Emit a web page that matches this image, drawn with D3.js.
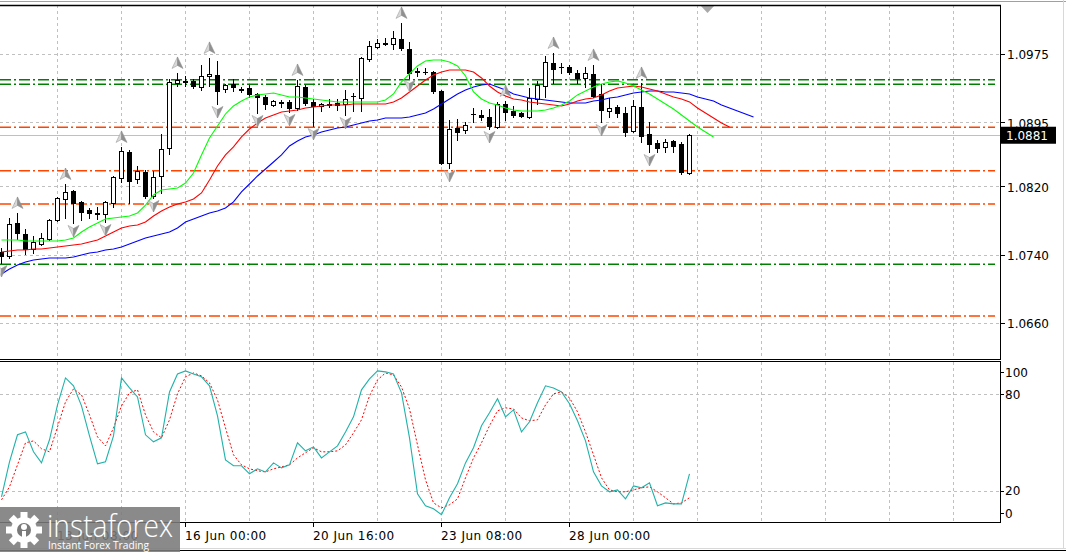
<!DOCTYPE html>
<html><head><meta charset="utf-8">
<script src="https://cdn.jsdelivr.net/npm/d3@7"></script>
<style>html,body{margin:0;padding:0;background:#fff;overflow:hidden}svg{display:block}</style>
</head><body>
<svg id="c" width="1066" height="552"></svg>
<script>
// ---- EURUSD H4 candles (bar index 0 = 10 Jun 04:00) ----
const open=[1.07443,1.07396,1.07783,1.07654,1.07478,1.07537,1.07595,1.07818,1.08064,1.08157,
1.08029,1.07935,1.07900,1.07888,1.08017,1.08310,1.08614,1.08298,1.08380,1.08099,
1.08333,1.08661,1.09422,1.09446,1.09446,1.09375,1.09504,1.09516,1.09352,1.09410,
1.09352,1.09364,1.09293,1.09258,1.09164,1.09200,1.09200,1.09129,1.09375,1.09200,
1.09153,1.09176,1.09188,1.09176,1.09264,1.09246,1.09703,1.09844,1.09891,1.09879,
1.09937,1.09820,1.09563,1.09551,1.09551,1.09328,1.08485,1.08895,1.08872,1.09059,
1.09047,1.09024,1.08907,1.09176,1.09094,1.09071,1.09024,1.09235,1.09387,1.09656,
1.09609,1.09609,1.09539,1.09481,1.09528,1.09293,1.09094,1.09141,1.09071,1.08860,
1.09141,1.08825,1.08720,1.08673,1.08743,1.08708,1.08368];
const high=[1.07490,1.07841,1.07900,1.07712,1.07630,1.07666,1.07830,1.08087,1.08239,1.08169,
1.08040,1.07958,1.07970,1.08040,1.08333,1.08673,1.08638,1.08450,1.08403,1.08392,
1.08825,1.09469,1.09539,1.09504,1.09469,1.09633,1.09715,1.09680,1.09410,1.09469,
1.09375,1.09399,1.09305,1.09282,1.09223,1.09223,1.09223,1.09457,1.09399,1.09235,
1.09188,1.09235,1.09235,1.09340,1.09305,1.09727,1.09914,1.09937,1.09949,1.10031,
1.10125,1.09902,1.09598,1.09598,1.09563,1.09340,1.08989,1.09001,1.08965,1.09129,
1.09106,1.09118,1.09200,1.09211,1.09153,1.09083,1.09364,1.09446,1.09738,1.09773,
1.09656,1.09633,1.09574,1.09609,1.09633,1.09410,1.09246,1.09164,1.09141,1.09223,
1.09422,1.08965,1.08755,1.08766,1.08755,1.08731,1.08825];
const low=[1.07314,1.07373,1.07595,1.07420,1.07431,1.07525,1.07584,1.07806,1.07841,1.07783,
1.07818,1.07841,1.07830,1.07794,1.07970,1.08263,1.08017,1.08251,1.08075,1.08075,
1.08134,1.08591,1.09387,1.09387,1.09364,1.09340,1.09387,1.09176,1.09317,1.09328,
1.09317,1.09258,1.09071,1.09118,1.09153,1.09141,1.09083,1.09106,1.09164,1.08919,
1.09094,1.09141,1.09106,1.09047,1.09094,1.09094,1.09680,1.09832,1.09867,1.09820,
1.09809,1.09481,1.09504,1.09528,1.09305,1.08474,1.08427,1.08755,1.08837,1.08965,
1.08989,1.08883,1.08895,1.08989,1.09024,1.09024,1.09012,1.09176,1.09258,1.09422,
1.09539,1.09528,1.09422,1.09375,1.09258,1.08965,1.09024,1.09024,1.08801,1.08848,
1.08731,1.08614,1.08614,1.08614,1.08614,1.08357,1.08357];
const close=[1.07396,1.07771,1.07666,1.07478,1.07560,1.07607,1.07818,1.08075,1.08146,1.08017,
1.07912,1.07900,1.07888,1.08029,1.08321,1.08626,1.08275,1.08392,1.08099,1.08321,
1.08649,1.09434,1.09457,1.09434,1.09387,1.09504,1.09528,1.09328,1.09399,1.09375,
1.09340,1.09293,1.09258,1.09176,1.09211,1.09188,1.09129,1.09387,1.09188,1.09153,
1.09176,1.09164,1.09164,1.09235,1.09266,1.09715,1.09855,1.09891,1.09879,1.09949,
1.09832,1.09539,1.09551,1.09548,1.09328,1.08485,1.08883,1.08848,1.08930,1.09055,
1.09024,1.08919,1.09176,1.09083,1.09047,1.09036,1.09246,1.09399,1.09668,1.09586,
1.09605,1.09551,1.09481,1.09539,1.09270,1.09106,1.09129,1.09071,1.08848,1.09153,
1.08801,1.08708,1.08661,1.08731,1.08684,1.08380,1.08810];

// ---- Alligator (values at displayed bar positions, shift already applied) ----
const lips=[1.07584,1.07584,1.07584,1.07572,1.07572,1.07572,1.07572,1.07572,1.07584,1.07607,
1.07677,1.07736,1.07783,1.07830,1.07841,1.07853,1.07865,1.07900,1.07993,1.08111,
1.08169,1.08181,1.08193,1.08251,1.08368,1.08579,1.08778,1.08919,1.09059,1.09153,
1.09211,1.09258,1.09282,1.09293,1.09305,1.09282,1.09258,1.09258,1.09246,1.09235,
1.09223,1.09211,1.09200,1.09200,1.09200,1.09200,1.09200,1.09200,1.09223,1.09293,
1.09434,1.09528,1.09621,1.09680,1.09691,1.09691,1.09668,1.09621,1.09504,1.09317,
1.09235,1.09188,1.09164,1.09129,1.09106,1.09094,1.09094,1.09094,1.09106,1.09129,
1.09164,1.09211,1.09282,1.09328,1.09375,1.09410,1.09434,1.09446,1.09422,1.09387,
1.09340,1.09293,1.09235,1.09176,1.09118,1.09047,1.08977,1.08907,1.08848,1.08790];
const teeth=[1.07443,1.07455,1.07467,1.07467,1.07478,1.07478,1.07490,1.07502,1.07513,1.07525,
1.07537,1.07560,1.07584,1.07630,1.07677,1.07724,1.07748,1.07759,1.07794,1.07865,
1.07923,1.07970,1.08005,1.08029,1.08064,1.08134,1.08286,1.08450,1.08579,1.08673,
1.08790,1.08883,1.08954,1.09012,1.09047,1.09083,1.09094,1.09106,1.09129,1.09141,
1.09153,1.09164,1.09164,1.09164,1.09176,1.09176,1.09176,1.09176,1.09176,1.09200,
1.09246,1.09317,1.09387,1.09457,1.09516,1.09551,1.09574,1.09574,1.09574,1.09551,
1.09481,1.09387,1.09317,1.09270,1.09235,1.09223,1.09200,1.09188,1.09176,1.09164,
1.09153,1.09176,1.09211,1.09235,1.09246,1.09282,1.09328,1.09364,1.09375,1.09387,
1.09375,1.09352,1.09328,1.09293,1.09258,1.09235,1.09200,1.09129,1.09071,1.09012,
1.08954,1.08907];
const jaw=[1.07186,1.07244,1.07291,1.07326,1.07349,1.07361,1.07373,1.07373,1.07373,1.07385,
1.07408,1.07431,1.07443,1.07467,1.07478,1.07502,1.07537,1.07572,1.07607,1.07630,
1.07654,1.07677,1.07724,1.07794,1.07830,1.07865,1.07900,1.07923,1.07958,1.08029,
1.08146,1.08239,1.08333,1.08415,1.08497,1.08579,1.08684,1.08743,1.08790,1.08813,
1.08848,1.08872,1.08895,1.08907,1.08930,1.08954,1.08977,1.08989,1.09012,1.09012,
1.09012,1.09024,1.09047,1.09071,1.09118,1.09176,1.09235,1.09293,1.09340,1.09375,
1.09399,1.09410,1.09375,1.09340,1.09293,1.09270,1.09246,1.09235,1.09223,1.09211,
1.09200,1.09188,1.09188,1.09188,1.09211,1.09223,1.09246,1.09258,1.09282,1.09305,
1.09317,1.09328,1.09328,1.09317,1.09317,1.09305,1.09293,1.09258,1.09235,1.09211,
1.09164,1.09129,1.09094,1.09059,1.09024];

// ---- Fractals (bar indices) ----
const fractalUp=[2,8,15,22,26,37,50,63,69,74,80];
const fractalDown=[0,9,13,19,27,32,36,39,43,51,56,61,75,81];

// ---- Horizontal levels ----
const levelPrices=[1.09461,1.09407,1.08903,1.08395,1.08005,1.07299,1.06694];
const levelColors=["#008000","#008000","#ff4500","#ff4500","#ff4500","#008000","#ff4500"];
const bidPrice=1.0881;

// ---- Stochastic ----
const stochMain=[16.2,38.0,54.8,56.6,44.2,37.3,51.7,73.4,90.2,85.3,
72.8,54.1,36.7,38.0,54.1,90.2,84.0,78.4,54.8,50.4,
52.9,81.5,92.7,94.6,92.7,90.9,85.3,66.6,39.2,35.5,
35.5,30.5,33.6,31.7,37.3,34.2,36.1,49.8,44.8,47.3,
40.4,44.2,47.9,56.6,66.0,82.8,89.6,94.6,94.0,92.7,
80.9,52.9,18.0,10.6,8.7,5.0,15.6,24.3,37.3,46.7,
60.4,68.5,77.2,66.0,70.3,56.6,62.9,74.7,85.3,84.0,
81.5,74.1,63.5,51.0,31.7,23.0,19.3,20.5,14.9,23.0,
21.8,24.9,10.6,12.4,11.8,11.8,30.5];
const stochSignal=[14.3,22.4,36.1,49.8,51.0,46.1,44.2,59.7,75.3,83.4,
79.7,67.2,53.5,47.9,59.1,72.8,80.9,82.8,67.2,56.6,
52.9,64.1,80.3,90.9,93.3,91.5,87.1,76.5,59.1,42.3,
36.1,33.6,32.4,31.7,33.6,34.8,36.1,40.4,43.6,46.7,
44.2,44.2,44.8,48.5,56.0,64.1,79.0,89.0,93.3,92.1,
84.6,70.9,48.5,26.8,12.4,9.3,11.2,14.9,28.0,40.4,
49.8,60.4,69.7,71.6,70.9,65.3,63.5,64.1,73.4,80.3,
81.5,77.8,69.1,56.6,42.3,28.0,20.5,19.3,19.3,20.5,
21.8,22.4,19.3,15.6,11.8,12.4,15.6];

// ---- Axes ----
const priceTicks=[1.0975,1.0895,1.0820,1.0740,1.0660];
const stochTicks=[100,80,20,0];
const stochGrid=[80,20];
const xTickBars=[7,23,39,55,71];
const xTickLabels=["13 Jun 08:00","16 Jun 00:00","20 Jun 16:00","23 Jun 08:00","28 Jun 00:00"];
const gridBars=d3.range(7,125,8);

const svg=d3.select("#c");
const PL=0,PR=1000,MT=5,MB=359,ST=362,SB=522;
const xs=d3.scaleLinear().domain([0,1]).range([1,9]);
const ys=d3.scaleLinear().domain([1.06190,1.10335]).range([MB,MT]);
const ss=d3.scaleLinear().domain([0,100]).range([522.8,362.2]);
const px=v=>Math.round(v)+0.5;
const FONT="DejaVu Sans, Verdana, sans-serif";

const defs=svg.append("defs");
defs.append("clipPath").attr("id","cm").append("rect").attr("x",PL).attr("y",MT).attr("width",PR-PL).attr("height",MB-MT);
defs.append("clipPath").attr("id","cs").append("rect").attr("x",PL).attr("y",ST).attr("width",PR-PL).attr("height",SB-ST);

// outer frame
svg.append("line").attr("x1",0).attr("x2",1066).attr("y1",1.5).attr("y2",1.5).attr("stroke","#a0a0a0");
svg.append("line").attr("x1",1063.5).attr("x2",1063.5).attr("y1",0).attr("y2",549).attr("stroke","#d8d8d8");
svg.append("line").attr("x1",0).attr("x2",1066).attr("y1",548.5).attr("y2",548.5).attr("stroke","#d8d8d8");
svg.append("line").attr("x1",0).attr("x2",1066).attr("y1",550.5).attr("y2",550.5).attr("stroke","#000");

// ===== main panel =====
const gm=svg.append("g").attr("clip-path","url(#cm)");
gm.selectAll(".vg").data(gridBars).join("line")
  .attr("x1",d=>px(xs(d))).attr("x2",d=>px(xs(d))).attr("y1",MT).attr("y2",MB)
  .attr("stroke","#c0c0c0").attr("stroke-dasharray","3,3");
gm.selectAll(".hg").data(priceTicks).join("line")
  .attr("x1",PL).attr("x2",PR).attr("y1",d=>px(ys(d))-1).attr("y2",d=>px(ys(d))-1)
  .attr("stroke","#c0c0c0").attr("stroke-dasharray","3,3");
// levels
gm.selectAll(".lv").data(levelPrices).join("line")
  .attr("x1",PL).attr("x2",995).attr("y1",d=>ys(d)).attr("y2",d=>ys(d))
  .attr("stroke",(d,i)=>levelColors[i]).attr("stroke-width",1.5).attr("stroke-dasharray","11,3,2,3");
// bid line
gm.append("line").attr("x1",PL).attr("x2",PR).attr("y1",px(ys(bidPrice))).attr("y2",px(ys(bidPrice)))
  .attr("stroke","#c0c0c0");

// candles
const bars=d3.range(open.length);
const cg=gm.append("g");
bars.forEach(i=>{
  const cx=Math.round(xs(i))+0.5;
  const o=ys(open[i]),c=ys(close[i]),h=ys(high[i]),l=ys(low[i]);
  cg.append("line").attr("x1",cx).attr("x2",cx).attr("y1",Math.round(h)).attr("y2",Math.round(l)+1).attr("stroke","#000");
  const top=Math.round(Math.min(o,c)),bot=Math.round(Math.max(o,c));
  if(bot-top<1){
    cg.append("line").attr("x1",cx-2.5).attr("x2",cx+2.5).attr("y1",top+0.5).attr("y2",top+0.5).attr("stroke","#000");
  } else {
    cg.append("rect").attr("x",cx-2).attr("y",top+0.5).attr("width",4).attr("height",bot-top)
      .attr("fill",close[i]>=open[i]?"#fff":"#000").attr("stroke","#000");
  }
});

// alligator
const ln=d3.line().x((d,i)=>xs(i)+0.5).y(d=>ys(d));
[[jaw,"#0000ff"],[teeth,"#ff0000"],[lips,"#00ff00"]].forEach(([arr,col])=>{
  gm.append("path").attr("d",ln(arr)).attr("fill","none").attr("stroke",col).attr("stroke-width",1.1);
});

// fractals
function arrow(g,x,y,up){
  const s=up?1:-1;
  const a=g.append("g").attr("transform",`translate(${x},${y}) scale(1,${s})`);
  a.append("path").attr("d","M0,-6 L-5.5,5.5 L0,2.5 Z").attr("fill","#d8d8d8").attr("stroke","#a0a0a0").attr("stroke-width",0.6);
  a.append("path").attr("d","M0,-6 L5.5,5.5 L0,2.5 Z").attr("fill","#909090").attr("stroke","#909090").attr("stroke-width",0.6);
}
fractalUp.forEach(i=>arrow(gm,xs(i)+0.5,ys(high[i])-10,true));
fractalDown.forEach(i=>arrow(gm,xs(i)+0.5,ys(low[i])+8,false));

// chart shift marker
svg.append("path").attr("d","M700,5 L715,5 L707.5,13 Z").attr("fill","#a8a8a8");

// panel borders
svg.append("line").attr("x1",0).attr("x2",PR+1).attr("y1",MT+0.5).attr("y2",MT+0.5).attr("stroke","#000").attr("stroke-width",1.5);
svg.append("line").attr("x1",PR+0.5).attr("x2",PR+0.5).attr("y1",MT).attr("y2",MB+1).attr("stroke","#000");
svg.append("line").attr("x1",0).attr("x2",PR+1).attr("y1",MB+0.5).attr("y2",MB+0.5).attr("stroke","#000");

// price axis
const pa=svg.append("g");
pa.selectAll("line").data(priceTicks).join("line")
  .attr("x1",PR).attr("x2",PR+5).attr("y1",d=>px(ys(d))-1).attr("y2",d=>px(ys(d))-1).attr("stroke","#000");
pa.selectAll("text").data(priceTicks).join("text")
  .attr("x",1007).attr("y",d=>ys(d)+4.5).text(d=>d.toFixed(4))
  .attr("font-family",FONT).attr("font-size",12).attr("fill","#000");
// bid label
const by=ys(bidPrice);
svg.append("rect").attr("x",1001).attr("y",by-8.5).attr("width",55).attr("height",17).attr("fill","#000");
svg.append("text").attr("x",1006).attr("y",by+4.5).text(bidPrice.toFixed(4))
  .attr("font-family",FONT).attr("font-size",12).attr("fill","#fff");

// ===== stochastic panel =====
const gs=svg.append("g").attr("clip-path","url(#cs)");
gs.selectAll(".vg").data(gridBars).join("line")
  .attr("x1",d=>px(xs(d))).attr("x2",d=>px(xs(d))).attr("y1",ST).attr("y2",SB)
  .attr("stroke","#c0c0c0").attr("stroke-dasharray","3,3");
gs.selectAll(".hg").data(stochGrid).join("line")
  .attr("x1",PL).attr("x2",PR).attr("y1",d=>px(ss(d))).attr("y2",d=>px(ss(d)))
  .attr("stroke","#c0c0c0").attr("stroke-dasharray","3,3");
const sl=d3.line().x((d,i)=>xs(i)+0.5).y(d=>ss(d));
gs.append("path").attr("d",sl(stochSignal)).attr("fill","none").attr("stroke","#ff0000").attr("stroke-width",1).attr("stroke-dasharray","2,2");
gs.append("path").attr("d",sl(stochMain)).attr("fill","none").attr("stroke","#20b2aa").attr("stroke-width",1.1);

svg.append("line").attr("x1",0).attr("x2",PR+1).attr("y1",ST-0.5).attr("y2",ST-0.5).attr("stroke","#000");
svg.append("line").attr("x1",PR+0.5).attr("x2",PR+0.5).attr("y1",ST-1).attr("y2",SB+1).attr("stroke","#000");
svg.append("line").attr("x1",0).attr("x2",PR+1).attr("y1",SB+0.5).attr("y2",SB+0.5).attr("stroke","#000");

const sa=svg.append("g");
const stochLabelY=d=>d===100?ss(d)+10:(d===0?ss(d)-9.5:ss(d));
sa.selectAll("line").data(stochTicks).join("line")
  .attr("x1",PR).attr("x2",PR+4).attr("y1",d=>px(stochLabelY(d))).attr("y2",d=>px(stochLabelY(d))).attr("stroke","#000");
sa.selectAll("text").data(stochTicks).join("text")
  .attr("x",1005).attr("y",d=>stochLabelY(d)+4.5).text(d=>d)
  .attr("font-family",FONT).attr("font-size",12).attr("fill","#000");

// time axis
const ta=svg.append("g");
ta.selectAll("line").data(xTickBars).join("line")
  .attr("x1",d=>px(xs(d))).attr("x2",d=>px(xs(d))).attr("y1",SB).attr("y2",SB+5).attr("stroke","#000");
ta.selectAll("text").data(xTickBars).join("text")
  .attr("x",d=>xs(d)).attr("y",540).text((d,i)=>xTickLabels[i])
  .attr("font-family",FONT).attr("font-size",12).attr("letter-spacing","0.45px").attr("fill","#000");

// ===== instaforex logo =====
const lg=svg.append("g");
lg.append("rect").attr("x",0).attr("y",507).attr("width",180).attr("height",45).attr("fill","#7a7a7a").attr("opacity",0.88);
const gear=lg.append("g").attr("transform","translate(24,530)");
d3.range(8).forEach(k=>{
  gear.append("rect").attr("x",-3.5).attr("y",-18).attr("width",7).attr("height",8).attr("fill","#fff")
    .attr("transform",`rotate(${k*45})`);
});
gear.append("circle").attr("r",13).attr("fill","#fff");
gear.append("circle").attr("r",7).attr("fill","#7a7a7a");
gear.append("circle").attr("cy",-3).attr("r",3).attr("fill","#fff");
gear.append("rect").attr("x",-2).attr("y",1).attr("width",4).attr("height",12).attr("fill","#fff");
lg.append("text").attr("x",47).attr("y",537).text("instaforex")
  .attr("font-family","Open Sans, Liberation Sans, sans-serif").attr("font-size",31).attr("font-weight",300)
  .attr("fill","#fff").attr("textLength",126).attr("lengthAdjust","spacingAndGlyphs");
lg.append("text").attr("x",48).attr("y",549).text("Instant Forex Trading")
  .attr("font-family","Open Sans, Liberation Sans, sans-serif").attr("font-size",11.5)
  .attr("fill","#fff").attr("textLength",101).attr("lengthAdjust","spacingAndGlyphs");
</script>
</body></html>
